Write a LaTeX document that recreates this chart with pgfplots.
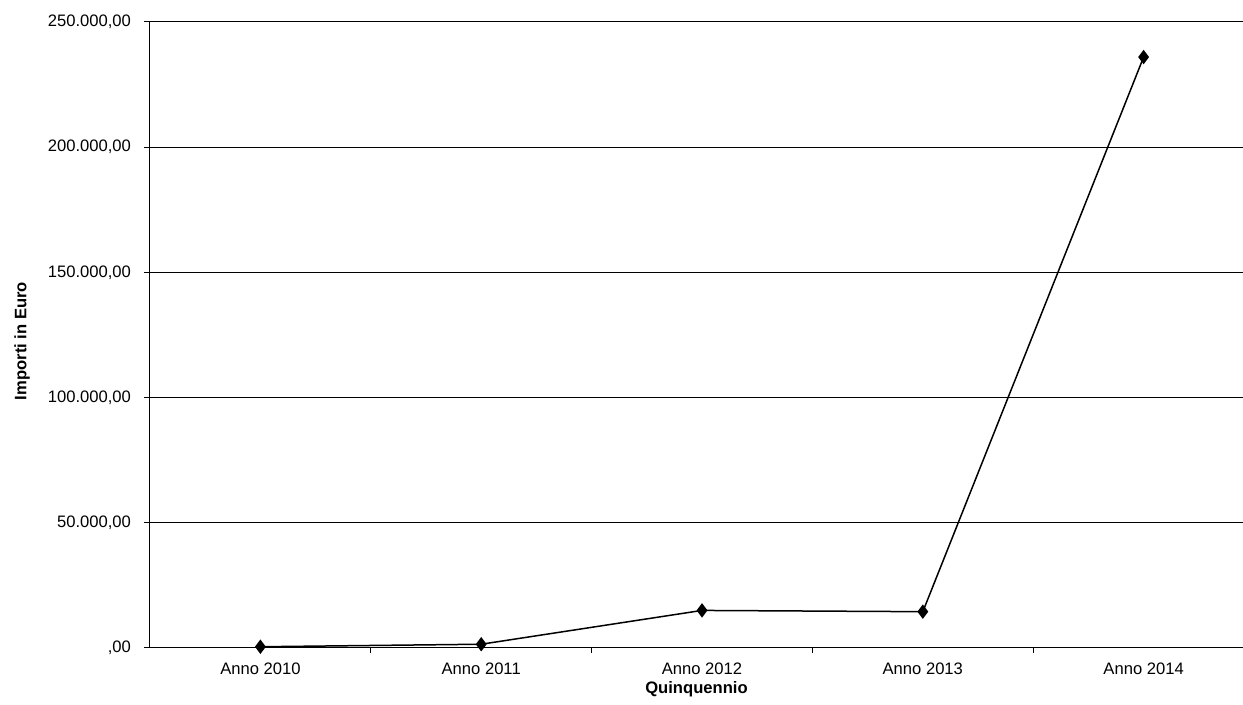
\documentclass[border=0pt]{standalone}
\usepackage{pgfplots}
\pgfplotsset{compat=1.18}
\usepackage{fontspec}
\setmainfont{Liberation Sans}
\begin{document}
\begin{tikzpicture}
\useasboundingbox (0,0) rectangle (621.5pt,352.5pt);
\begin{axis}[
  at={(75pt,28.5pt)}, anchor=south west,
  scale only axis, width=546.5pt, height=313pt,
  xmin=-0.5, xmax=4.45, ymin=0, ymax=250000,
  scaled y ticks=false,
  axis x line*=bottom, axis y line*=left,
  axis line style={black, line width=0.5pt},
  xtick={0,1,2,3,4},
  xticklabels={Anno 2010,Anno 2011,Anno 2012,Anno 2013,Anno 2014},
  major x tick style={draw=none},
  minor xtick={0.5,1.5,2.5,3.5},
  minor x tick style={black, line width=0.5pt},
  minor tick length=2.5pt,
  ytick={0,50000,100000,150000,200000,250000},
  yticklabels={{,00},{50.000,00},{100.000,00},{150.000,00},{200.000,00},{250.000,00}},
  ytick style={black, line width=0.5pt},
  tick align=outside, major tick length=3pt,
  ymajorgrids, grid style={black, line width=0.5pt},
  ticklabel style={font=\fontsize{8.3}{10}\selectfont},
  xticklabel style={yshift=-1pt},
  yticklabel style={xshift=-3pt},
  xlabel={\bfseries Quinquennio},
  label style={font=\fontsize{8.3}{10}\selectfont},
  xlabel style={at={(axis description cs:0.5,0)}, anchor=center, yshift=-20.5pt},
  clip=false,
]
\addplot[black, line width=0.75pt, mark=diamond*, mark size=3pt, mark options={fill=black}]
  coordinates {(0,500) (1,1500) (2,15000) (3,14500) (4,236000)};
\end{axis}
\node[rotate=90, font=\fontsize{8.3}{10}\selectfont\bfseries] at (11pt,182pt) {Importi in Euro};
\end{tikzpicture}
\end{document}
